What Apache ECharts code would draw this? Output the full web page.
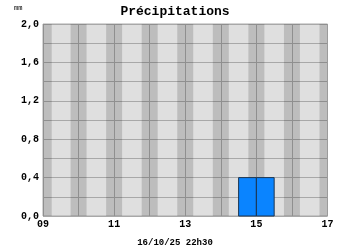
<!DOCTYPE html>
<html><head><meta charset="utf-8">
<script src="https://cdn.jsdelivr.net/npm/echarts@6/dist/echarts.min.js"></script>
<style>html,body{margin:0;padding:0;background:#fff}#c{width:350px;height:250px}</style>
</head><body><div id="c"></div>
<script>
// Data (days of month on x; precipitation in mm)
const barStarts = [14.5, 15.0];
const barEnds = [15.0, 15.5];
const barValues = [0.4, 0.4];
const nightStarts = [9.0, 9.775, 10.775, 11.775, 12.775, 13.775, 14.775, 15.775, 16.775];
const nightEnds = [9.245, 10.225, 11.225, 12.225, 13.225, 14.225, 15.225, 16.225, 17.0];
const xTickLabels = ['09', '11', '13', '15', '17'];
const yTickLabels = ['0,0', '0,4', '0,8', '1,2', '1,6', '2,0'];
const titleText = 'Précipitations';
const unitText = 'mm';
const dateText = '16/10/25 22h30';

const font = '"Liberation Mono", "Courier New", monospace';
const chart = echarts.init(document.getElementById('c'), null, {renderer: 'canvas'});

const bars = barStarts.map((s, i) => [s, barEnds[i], barValues[i]]);
const night = nightStarts.map((s, i) => [{xAxis: s}, {xAxis: nightEnds[i]}]);

chart.setOption({
  animation: false,
  backgroundColor: '#ffffff',
  title: [
    {text: titleText, left: 'center', top: 0,
     textStyle: {fontFamily: font, fontWeight: 'bold', fontSize: 13, color: '#000'}},
    {text: unitText, left: 9, top: 0,
     textStyle: {fontFamily: font, fontWeight: 'normal', fontSize: 7, color: '#000'}},
    {text: dateText, left: 'center', top: 233,
     textStyle: {fontFamily: font, fontWeight: 'bold', fontSize: 9, color: '#000'}}
  ],
  grid: {left: 43, right: 22.5, top: 24, bottom: 34, show: true,
         backgroundColor: '#dfdfdf', borderColor: '#a8a8a8', borderWidth: 1},
  xAxis: {
    type: 'value', min: 9, max: 17, interval: 1,
    axisLine: {show: false}, axisTick: {show: false},
    splitLine: {show: true, lineStyle: {color: '#a8a8a8', width: 1}},
    axisLabel: {
      fontFamily: font, fontWeight: 'bold', fontSize: 10, color: '#000', margin: 3,
      formatter: v => { const i = xTickLabels.indexOf(String(Math.round(v)).padStart(2, '0')); return i >= 0 ? xTickLabels[i] : ''; }
    }
  },
  yAxis: {
    type: 'value', min: 0, max: 2, interval: 0.2,
    axisLine: {show: false}, axisTick: {show: false},
    splitLine: {show: true, lineStyle: {color: '#a8a8a8', width: 1}},
    axisLabel: {
      fontFamily: font, fontWeight: 'bold', fontSize: 10, color: '#000', margin: 4,
      formatter: v => { const k = Math.round(v * 10); return k % 4 === 0 ? yTickLabels[k / 4] : ''; }
    }
  },
  series: [
    {
      type: 'custom',
      data: bars,
      renderItem: (params, api) => {
        const p0 = api.coord([api.value(0), api.value(2)]);
        const p1 = api.coord([api.value(1), 0]);
        return {type: 'rect',
          shape: {x: p0[0], y: p0[1], width: p1[0] - p0[0], height: p1[1] - p0[1]},
          style: {fill: '#0a84ff', stroke: '#1c3550', lineWidth: 1}};
      },
      markArea: {
        silent: true,
        itemStyle: {color: 'rgba(0,0,0,0.15)'},
        data: night
      },
      z: 3
    }
  ]
});
</script></body></html>
